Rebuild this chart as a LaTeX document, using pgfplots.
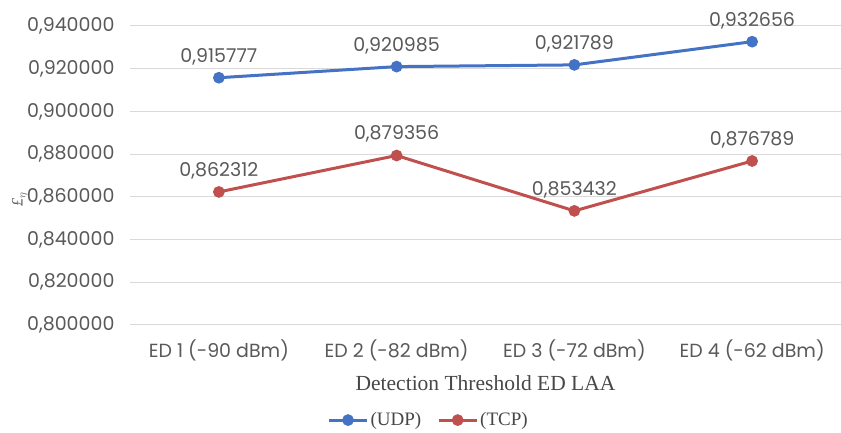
\documentclass[border=0pt]{standalone}
\usepackage{pgfplots}
\pgfplotsset{compat=1.18}
\usepackage{fontspec}
\setmainfont{Liberation Serif}
\newfontfamily\tickfont{Poppins}
\definecolor{udp}{HTML}{4472C4}
\definecolor{tcp}{HTML}{C0504D}
\definecolor{grd}{HTML}{D9D9D9}
\definecolor{txt}{HTML}{595959}
\begin{document}
\begin{tikzpicture}
\useasboundingbox (-130pt,-108pt) rectangle (711pt,325pt);
\begin{axis}[
  at={(0,0)}, anchor=south west,
  scale only axis, width=711pt, height=299pt,
  xmin=-0.5, xmax=3.5, ymin=0.8, ymax=0.94,
  xtick={0,1,2,3},
  xticklabels={ED 1 (-90 dBm), ED 2 (-82 dBm), ED 3 (-72 dBm), ED 4 (-62 dBm)},
  ytick={0.80,0.82,0.84,0.86,0.88,0.90,0.92,0.94},
  /pgf/number format/.cd, fixed, fixed zerofill, precision=6, use comma, assume math mode=true,
  /pgfplots/.cd,
  ymajorgrids, grid style={grd, line width=1pt},
  axis x line*=bottom, axis y line*=left,
  x axis line style={grd, line width=1pt, -},
  y axis line style={draw=none},
  major tick length=0pt,
  tick label style={font=\tickfont\fontsize{19}{21}\selectfont, text=txt},
  xticklabel style={yshift=-11pt},
  yticklabel style={xshift=-12pt},
  xlabel={Detection Threshold ED LAA},
  xlabel style={font=\fontsize{21.5}{23}\selectfont, text=txt!80!black, yshift=-8pt},
  ylabel={\textit{\textsterling}\kern-0.5pt$_{\eta}$},
  ylabel style={font=\fontsize{16}{18}\selectfont, text=txt, at={(axis description cs:-0.155,0.42)}, anchor=center},
  nodes near coords,
  nodes near coords style={font=\tickfont\fontsize{19}{21}\selectfont, text=txt, yshift=8pt,
     /pgf/number format/.cd, fixed, fixed zerofill, precision=6, use comma, assume math mode=true},
  legend style={at={(axis description cs:0.42,-0.318)}, anchor=center, draw=none, legend columns=2,
     font=\fontsize{19}{21}\selectfont, text=txt!80!black,
     /tikz/every even column/.append style={column sep=14pt}},
  legend image code/.code={%
    \draw[#1, mark repeat=2, mark phase=2] plot coordinates {(0pt,0pt) (19pt,0pt) (38pt,0pt)};},
  legend cell align=left,
]
\addplot[udp, line width=3pt, mark=*, mark size=4.3pt] coordinates {(0,0.915777) (1,0.920985) (2,0.921789) (3,0.932656)};
\addlegendentry{(UDP)}
\addplot[tcp, line width=3pt, mark=*, mark size=4.3pt] coordinates {(0,0.862312) (1,0.879356) (2,0.853432) (3,0.876789)};
\addlegendentry{(TCP)}
\end{axis}
\end{tikzpicture}
\end{document}
